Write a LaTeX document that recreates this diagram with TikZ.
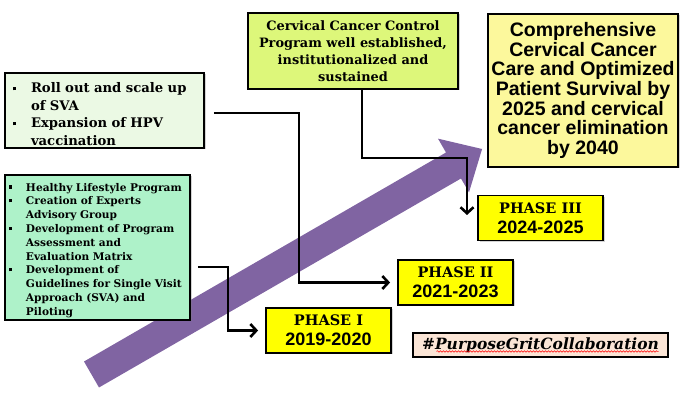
\documentclass[tikz,border=0pt]{standalone}
\usepackage{fontspec}
\setmainfont{DejaVu Serif}
\newfontfamily\arialfont{Liberation Sans}
\usepackage{tikz}
\usetikzlibrary{arrows.meta,shadows,decorations.pathmorphing}

\definecolor{rollgreen}{HTML}{EBF9E4}
\definecolor{mintgreen}{HTML}{AEF2C9}
\definecolor{limeyellow}{HTML}{DDF77A}
\definecolor{paleyellow}{HTML}{FCF89C}
\definecolor{phaseyellow}{HTML}{FFFF00}
\definecolor{peach}{HTML}{FBE5D6}
\definecolor{officepurple}{HTML}{8064A2}

\newcommand{\sqitem}[2][18pt]{\par\noindent\hangindent=#1\hangafter=1%
  \makebox[#1][l]{\rule[2.5pt]{3.2pt}{3.2pt}}#2\par}

\begin{document}
\begin{tikzpicture}[x=1pt, y=-1pt,
    box/.style = {draw, line width=1.8pt, inner sep=0pt,
      drop shadow={shadow xshift=1.5pt, shadow yshift=-1.5pt, opacity=.35}},
    listbox/.style = {box, execute at begin node=\raggedright},
    phasebox/.style = {box, fill=phaseyellow, align=center,
      minimum width=125pt, minimum height=45pt, font=\fontsize{18}{20}\selectfont},
    conn/.style = {line width=2.6pt, -{Straight Barb[length=6pt,width=13pt,line width=2.6pt]}}]

    \useasboundingbox (0,0) rectangle (681,403);

    % big purple arrow
    \begin{scope}[shift={(91.5,374.5)}, rotate=30]
        \fill [officepurple] (0,-15) -- (418,-15) -- (418,-31) -- (451,0)
            -- (418,31) -- (418,15) -- (0,15) -- cycle;
    \end{scope}

    % boxes
    \node (roll) at (104.5,110.5) [listbox, fill=rollgreen, minimum width=199pt,
        minimum height=75pt, text width=183pt,
        font=\bfseries\fontsize{13.2}{17.5}\selectfont]
        {\sqitem{Roll out and scale up\newline of SVA}\sqitem{Expansion of HPV\newline vaccination}};

    \node (healthy) at (97.5,247.5) [listbox, fill=mintgreen, minimum width=185pt,
        minimum height=145pt, text width=177pt,
        font=\bfseries\fontsize{10.6}{13.8}\selectfont]
        {\sqitem[17pt]{Healthy Lifestyle Program}\sqitem[17pt]{Creation of Experts\newline Advisory Group}%
         \sqitem[17pt]{Development of Program\newline Assessment and\newline Evaluation Matrix}%
         \sqitem[17pt]{Development of\newline Guidelines for Single Visit\newline Approach (SVA) and\newline Piloting}};

    \node (control) at (353,51) [box, fill=limeyellow, minimum width=210pt,
        minimum height=76pt, align=center,
        font=\bfseries\fontsize{12.9}{16.8}\selectfont]
        {Cervical Cancer Control\\Program well established,\\institutionalized and\\sustained};

    \node (goal) at (583,90.5) [box, fill=paleyellow, minimum width=190pt,
        minimum height=153pt, align=center,
        font=\arialfont\bfseries\fontsize{19.5}{19.6}\selectfont]
        {Comprehensive\\Cervical Cancer\\Care and Optimized\\Patient Survival by\\2025 and cervical\\cancer elimination\\by 2040};

    \node (phase3) at (540.5,218) [phasebox]
        {{\bfseries\fontsize{14.5}{20}\selectfont PHASE III}\\
         {\arialfont\bfseries 2024-2025}};
    \node (phase2) at (455.5,282.5) [phasebox, minimum width=115pt]
        {{\bfseries\fontsize{14.5}{20}\selectfont PHASE II}\\
         {\arialfont\bfseries 2021-2023}};
    \node (phase1) at (328.5,330.5) [phasebox]
        {{\bfseries\fontsize{14.5}{20}\selectfont PHASE I}\\
         {\arialfont\bfseries 2019-2020}};

    \node (tag) at (540.5,345) [draw, line width=1.2pt, fill=peach,
        minimum width=255pt, minimum height=24pt, inner sep=0pt,
        font=\bfseries\itshape\fontsize{15.5}{18}\selectfont]
        {\#PurposeGritCollaboration};
    \draw [red, line width=0.5pt, decorate,
        decoration={snake, amplitude=0.8pt, segment length=3pt}]
        ([xshift=-104pt,yshift=-6.5pt]tag.center) -- ([xshift=118pt,yshift=-6.5pt]tag.center);

    % connectors
    \coordinate (cbend) at (467,158);
    \draw [conn] ([xshift=9pt,yshift=-2.5pt]roll.east) -| ([xshift=-98pt]phase2.west)
        -- ([xshift=-7pt]phase2.west);
    \draw [conn] ([xshift=9pt]control.south) |- (cbend) -- ([yshift=3pt]cbend |- phase3.west);
    \draw [conn] ([xshift=7pt,yshift=-19.5pt]healthy.east) -| ([xshift=-37pt]phase1.west)
        -- ([xshift=-7pt]phase1.west);
\end{tikzpicture}
\end{document}
